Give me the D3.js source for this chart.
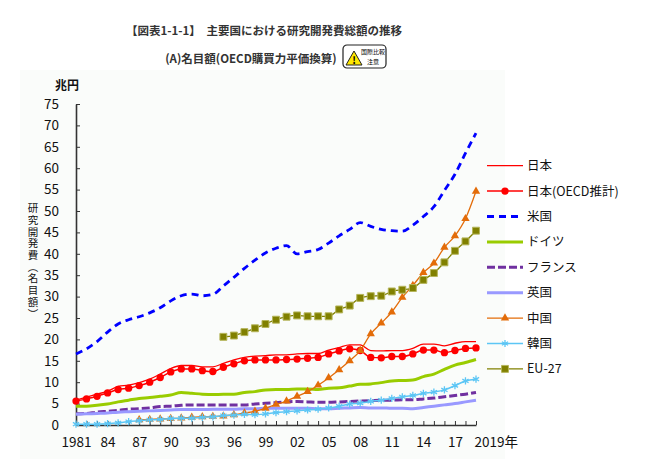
<!DOCTYPE html>
<html>
<head>
<meta charset="utf-8">
<script src="https://cdn.jsdelivr.net/npm/d3@7"></script>
<style>
  body { margin: 0; background: #fff; }
  text { font-family: "Noto Sans CJK JP", "Noto Sans", sans-serif; }
</style>
</head>
<body>
<svg width="645" height="459"></svg>
<script>
// data (兆円)
const years = d3.range(1981, 2020);
const tickYears = [1981, 1984, 1987, 1990, 1993, 1996, 1999, 2002, 2005, 2008, 2011, 2014, 2017, 2019];
const tickLabels = ["1981", "84", "87", "90", "93", "96", "99", "02", "05", "08", "11", "14", "17", "2019年"];

const japan = [5.8, 6.5, 7.2, 7.9, 9.0, 9.3, 9.9, 10.7, 11.9, 13.2, 13.9, 13.9, 13.6, 13.6, 14.4, 15.2, 15.8, 16.1, 16.2,
  16.4, 16.4, 16.6, 16.7, 16.7, 17.5, 18.1, 18.7, 18.7, 17.4, 17.3, 17.4, 17.4, 17.9, 18.9, 18.9, 18.5, 19.1, 19.5, 19.5];
const japanOecd = [5.6, 6.1, 6.7, 7.5, 8.3, 8.6, 9.2, 10.0, 11.1, 12.4, 13.1, 13.1, 12.7, 12.5, 13.5, 14.3, 15.0, 15.2, 15.2,
  15.2, 15.3, 15.4, 15.6, 15.8, 16.6, 17.3, 17.8, 17.4, 15.8, 15.7, 16.0, 16.0, 16.6, 17.5, 17.5, 16.9, 17.4, 17.9, 18.0];
const usa = [16.6, 17.8, 19.5, 21.7, 23.6, 24.6, 25.3, 26.2, 27.4, 29.0, 30.2, 30.6, 30.2, 30.5, 32.5, 34.5, 36.6, 38.5, 40.2,
  41.3, 41.9, 40.0, 40.5, 41.0, 42.5, 44.2, 45.7, 47.3, 46.4, 45.7, 45.4, 45.3, 46.7, 48.7, 51.0, 54.8, 58.6, 63.5, 68.2];
const germany = [4.4, 4.4, 4.6, 4.9, 5.4, 5.8, 6.2, 6.4, 6.7, 7.0, 7.6, 7.4, 7.2, 7.1, 7.2, 7.2, 7.6, 7.8, 8.2,
  8.3, 8.3, 8.4, 8.4, 8.3, 8.6, 8.7, 9.1, 9.5, 9.6, 9.9, 10.3, 10.4, 10.5, 11.3, 11.9, 13.0, 14.0, 14.6, 15.3];
const france = [2.6, 2.7, 3.0, 3.2, 3.4, 3.7, 3.8, 4.0, 4.3, 4.4, 4.6, 4.7, 4.7, 4.7, 4.7, 4.7, 4.7, 4.9, 5.1,
  5.2, 5.4, 5.5, 5.4, 5.3, 5.3, 5.4, 5.5, 5.6, 5.7, 5.8, 5.8, 5.9, 5.9, 6.1, 6.3, 6.6, 6.9, 7.2, 7.6];
const uk = [2.5, 2.6, 2.7, 2.8, 3.0, 3.1, 3.2, 3.3, 3.4, 3.5, 3.6, 3.6, 3.6, 3.7, 3.7, 3.7, 3.8, 3.8, 3.9,
  3.9, 3.9, 3.9, 3.9, 3.8, 3.8, 3.9, 4.0, 4.1, 4.0, 4.0, 3.9, 3.9, 3.8, 4.1, 4.4, 4.7, 5.0, 5.4, 5.8];
const china = [null, null, null, null, null, null, 1.2, 1.3, 1.4, 1.5, 1.6, 1.8, 1.9, 2.0, 2.1, 2.4, 2.8, 3.2, 3.9,
  4.8, 5.6, 6.7, 7.8, 9.3, 11.0, 12.9, 15.0, 17.4, 21.3, 23.8, 26.4, 29.8, 32.6, 35.6, 37.8, 41.5, 44.2, 48.2, 54.6];
const korea = [0.2, 0.2, 0.2, 0.3, 0.5, 0.8, 1.0, 1.2, 1.3, 1.5, 1.6, 1.6, 1.8, 1.9, 2.2, 2.3, 2.5, 2.4, 2.6,
  2.9, 3.1, 3.3, 3.5, 3.7, 4.0, 4.4, 4.9, 5.1, 5.5, 5.8, 6.2, 6.6, 6.9, 7.4, 7.7, 8.2, 9.2, 10.3, 10.7];
const eu27 = [null, null, null, null, null, null, null, null, null, null, null, null, null, null,
  20.6, 20.9, 21.7, 22.6, 23.6, 24.6, 25.3, 25.6, 25.4, 25.4, 25.4, 27.0, 27.9, 29.7, 30.1, 30.2, 31.2, 31.6, 32.0,
  33.9, 35.5, 38.0, 40.7, 42.9, 45.4];

const series = [
  {name: "日本", values: japan, color: "#ff0000", width: 1.3},
  {name: "日本(OECD推計)", values: japanOecd, color: "#ff0000", width: 1.5, marker: "circle"},
  {name: "米国", values: usa, color: "#0000ff", width: 2.8, dash: "7,5"},
  {name: "ドイツ", values: germany, color: "#99cc00", width: 3},
  {name: "フランス", values: france, color: "#7030a0", width: 3, dash: "8,3"},
  {name: "英国", values: uk, color: "#9999ff", width: 3},
  {name: "中国", values: china, color: "#e36c09", width: 1.3, marker: "triangle"},
  {name: "韓国", values: korea, color: "#5cc6f5", width: 1.5, marker: "asterisk"},
  {name: "EU-27", values: eu27, color: "#808000", width: 1.3, marker: "square"}
];

const svg = d3.select("svg");

// light panel behind the plot
svg.append("rect").attr("x", 20).attr("y", 70).attr("width", 485).attr("height", 389).attr("fill", "#fafcfa");

// titles
svg.append("text").attr("x", 264).attr("y", 35).attr("text-anchor", "middle")
  .attr("font-size", 11.5).attr("font-weight", "bold").attr("fill", "#333")
  .text("【図表1-1-1】　主要国における研究開発費総額の推移");
svg.append("text").attr("x", 251).attr("y", 63).attr("text-anchor", "middle")
  .attr("font-size", 11.5).attr("font-weight", "bold").attr("fill", "#333")
  .text("(A)名目額(OECD購買力平価換算)");

// warning badge
const badge = svg.append("g").attr("transform", "translate(343,45)");
badge.append("rect").attr("width", 43).attr("height", 23).attr("rx", 4)
  .attr("fill", "#fff").attr("stroke", "#222").attr("stroke-width", 1.2);
badge.append("path").attr("d", "M3,20 L11,6 L19,20 Z").attr("fill", "#ffe800").attr("stroke", "#222").attr("stroke-width", 1);
badge.append("text").attr("x", 11).attr("y", 18.5).attr("text-anchor", "middle")
  .attr("font-size", 10).attr("font-weight", "bold").text("!");
badge.append("text").attr("x", 30).attr("y", 9).attr("text-anchor", "middle").attr("font-size", 6).text("国際比較");
badge.append("text").attr("x", 30).attr("y", 19).attr("text-anchor", "middle").attr("font-size", 6).text("注意");

const x = d3.scaleLinear().domain([1981, 2019]).range([76, 476]);
const y = d3.scaleLinear().domain([0, 75]).range([425, 104]);

// axes
const yAxis = svg.append("g").attr("transform", "translate(76,0)")
  .call(d3.axisLeft(y).tickValues(d3.range(0, 76, 5)).tickSizeInner(-4).tickSizeOuter(0).tickPadding(17));
const xAxis = svg.append("g").attr("transform", "translate(0,425)")
  .call(d3.axisBottom(x).tickValues(years).tickSizeInner(-4).tickSizeOuter(0).tickPadding(12)
    .tickFormat(d => { const i = tickYears.indexOf(d); return i < 0 ? "" : tickLabels[i]; }));
[yAxis, xAxis].forEach(a => {
  a.selectAll("path.domain").attr("stroke", "#333").attr("stroke-width", 1.6);
  a.selectAll(".tick line").attr("stroke", "#333").attr("stroke-width", 1);
  a.selectAll("text").attr("font-size", 13.5).attr("fill", "#111")
    .attr("font-family", "'Noto Sans CJK JP', sans-serif");
});
xAxis.selectAll(".tick").filter(d => d === 2019).select("text").attr("text-anchor", "start").attr("x", -2);

svg.append("text").attr("x", 55).attr("y", 90).attr("font-size", 12).attr("font-weight", "bold").attr("fill", "#111").text("兆円");

// vertical y title
svg.append("text").attr("transform", "translate(33,203)")
  .style("writing-mode", "vertical-rl").style("text-orientation", "upright")
  .attr("font-size", 10.5).attr("letter-spacing", 1.2).attr("fill", "#111")
  .text("研究開発費（名目額）");

// markers
function markerPath(type, size) {
  const sym = {circle: d3.symbolCircle, triangle: d3.symbolTriangle, square: d3.symbolSquare, asterisk: d3.symbolAsterisk}[type];
  return d3.symbol(sym, size)();
}
function styleMarker(sel, s) {
  if (s.marker === "circle") sel.attr("d", markerPath("circle", 42)).attr("fill", s.color).attr("stroke", "none");
  if (s.marker === "triangle") sel.attr("d", markerPath("triangle", 30)).attr("fill", s.color).attr("stroke", "none");
  if (s.marker === "square") sel.attr("d", markerPath("square", 48)).attr("fill", s.color).attr("stroke", "#b5b55a").attr("stroke-width", 1);
  if (s.marker === "asterisk") sel.attr("d", markerPath("asterisk", 36)).attr("fill", "none").attr("stroke", s.color).attr("stroke-width", 1.3);
}

const line = d3.line().defined(d => d[1] != null).x(d => x(d[0])).y(d => y(d[1])).curve(d3.curveMonotoneX);

const plot = svg.append("g");
series.forEach(s => {
  const pts = years.map((yr, i) => [yr, s.values[i]]);
  plot.append("path").datum(pts).attr("d", line).attr("fill", "none")
    .attr("stroke", s.color).attr("stroke-width", s.width)
    .attr("stroke-dasharray", s.dash || null).attr("stroke-linejoin", "round");
  if (s.marker) {
    plot.append("g").selectAll("path").data(pts.filter(d => d[1] != null)).join("path")
      .attr("transform", d => `translate(${x(d[0])},${y(d[1])})`)
      .call(styleMarker, s);
  }
});

// legend
const legend = svg.append("g").attr("transform", "translate(487,165.7)");
series.forEach((s, i) => {
  const g = legend.append("g").attr("transform", `translate(0,${i * 25.4})`);
  g.append("line").attr("x1", 0).attr("x2", 36).attr("stroke", s.color).attr("stroke-width", s.width)
    .attr("stroke-dasharray", s.dash || null);
  if (s.marker) g.append("path").attr("transform", "translate(18,0)").call(styleMarker, s);
  g.append("text").attr("x", 40).attr("dy", "0.36em").attr("font-size", 12.5).attr("fill", "#111").text(s.name);
});
</script>
</body>
</html>
